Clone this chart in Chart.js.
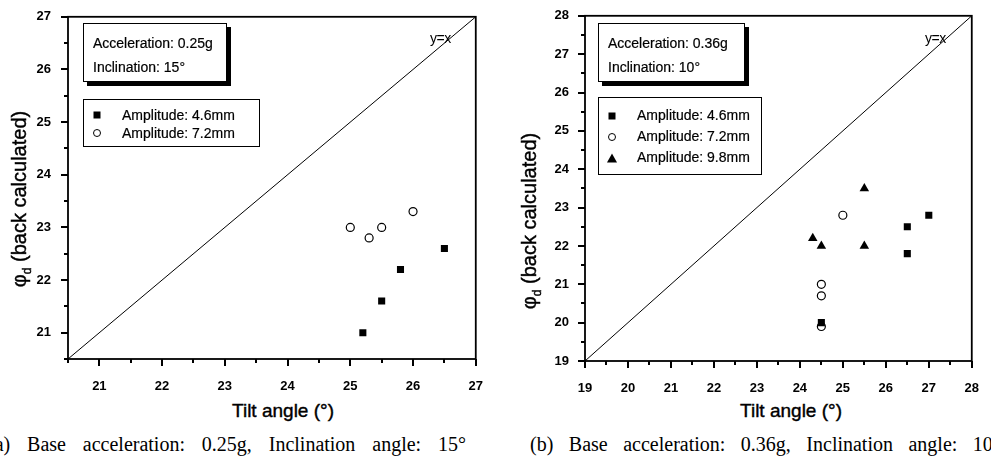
<!DOCTYPE html>
<html>
<head>
<meta charset="utf-8">
<script src="https://cdn.jsdelivr.net/npm/chart.js@4.4.1/dist/chart.umd.min.js"></script>
<style>
    body { margin: 0; width: 991px; height: 459px; overflow: hidden; background: #fff; position: relative; font-family: "Liberation Sans", Arial, sans-serif; color: #000; }
    canvas { position: absolute; top: 0; }
    .note { position: absolute; border: 1px solid #000; box-shadow: 4px 4px 0 #000; background: #fff; font-size: 14px; line-height: 24px; padding: 7px 0 0 9px; box-sizing: border-box; white-space: nowrap; -webkit-text-stroke: 0.2px #000; }
    .legend { position: absolute; border: 1px solid #000; background: #fff; font-size: 14px; box-sizing: border-box; white-space: nowrap; -webkit-text-stroke: 0.2px #000; }
    .legend .row { position: relative; padding-left: 38px; }
    .legend .mk { position: absolute; left: 13px; top: 50%; transform: translate(-50%, -50%); }
    .sq { width: 7px; height: 7px; background: #000; }
    .ci { width: 6px; height: 6px; border: 1.3px solid #000; border-radius: 50%; }
    .tr { width: 0; height: 0; border-left: 5px solid transparent; border-right: 5px solid transparent; border-bottom: 9px solid #000; }
    .yx { position: absolute; font-size: 14px; letter-spacing: -0.5px; }
    .xtitle { position: absolute; width: 200px; text-align: center; font-size: 19px; line-height: 20px; -webkit-text-stroke: 0.4px #000; }
    .ytitle { position: absolute; width: 260px; height: 24px; line-height: 24px; text-align: center; font-size: 20px; transform: rotate(-90deg); -webkit-text-stroke: 0.4px #000; white-space: nowrap; }
    .ytitle sub { font-size: 12px; }
    .caption { position: absolute; top: 434px; font-family: "Liberation Serif", "Times New Roman", serif; font-size: 20px; line-height: 20px; white-space: nowrap; }
</style>
</head>
<body>
<canvas id="chart-a" width="495" height="400" style="left:0"></canvas>
<canvas id="chart-b" width="496" height="400" style="left:495px"></canvas>

<div class="note" style="left:83px; top:23px; width:144px; height:59px;">Acceleration: 0.25g<br>Inclination: 15°</div>
<div class="legend" id="legend-a" style="left:83px; top:99px; width:177px; height:48px; padding-top:6px; line-height:18px;"></div>
<div class="yx" style="left:430px; top:30px;">y=x</div>
<div class="xtitle" style="left:183px; top:401px;">Tilt angle (°)</div>
<div class="ytitle" style="left:-111px; top:187px;">φ<sub>d</sub> (back calculated)</div>
<div class="caption" style="left:-12px; width:478px; text-align:justify; text-align-last:justify;">(a) Base acceleration: 0.25g, Inclination angle: 15°</div>

<div class="note" style="left:598px; top:23px; width:147px; height:59px;">Acceleration: 0.36g<br>Inclination: 10°</div>
<div class="legend" id="legend-b" style="left:598px; top:97px; width:164px; height:78px; padding-top:7px; line-height:21px;"></div>
<div class="yx" style="left:925px; top:30px;">y=x</div>
<div class="xtitle" style="left:691px; top:401px;">Tilt angle (°)</div>
<div class="ytitle" style="left:399px; top:209px;">φ<sub>d</sub> (back calculated)</div>
<div class="caption" style="left:530px; word-spacing:10.5px;">(b) Base acceleration: 0.36g, Inclination angle: 10°</div>

<script>
// Axis ranges (tilt angle and phi_d share the same range in each panel)
const rangeA = [20.5, 27];
const rangeB = [19, 28];

// (a) 0.25g, 15°
const tiltA46 = [25.2, 25.5, 25.8, 26.5];
const phiA46 = [21.0, 21.6, 22.2, 22.6];
const tiltA72 = [25.0, 25.3, 25.5, 26.0];
const phiA72 = [23.0, 22.8, 23.0, 23.3];

// (b) 0.36g, 10°
const tiltB46 = [24.5, 26.5, 26.5, 27.0];
const phiB46 = [20.0, 21.8, 22.5, 22.8];
const tiltB72 = [24.5, 24.5, 24.5, 25.0];
const phiB72 = [19.9, 20.7, 21.0, 22.8];
const tiltB98 = [24.3, 24.5, 25.5, 25.5];
const phiB98 = [22.2, 22.0, 22.0, 23.5];

const seriesNames = ["Amplitude: 4.6mm", "Amplitude: 7.2mm", "Amplitude: 9.8mm"];

function puntos(xs, ys) {
    return xs.map((x, i) => ({ x: x, y: ys[i] }));
}

// estilos de marcador: cuadrado lleno, circulo abierto, triangulo lleno
const estilos = [
    { pointStyle: "rect", pointRadius: 5, backgroundColor: "#000", borderColor: "#000", borderWidth: 0, css: "sq" },
    { pointStyle: "circle", pointRadius: 4, backgroundColor: "#fff", borderColor: "#000", borderWidth: 1.2, css: "ci" },
    { pointStyle: "triangle", pointRadius: 5.5, backgroundColor: "#000", borderColor: "#000", borderWidth: 0, css: "tr" }
];

const esMayor = v => Math.abs(v - Math.round(v)) < 1e-6;

// ticks mayores/menores hacia afuera y marco del grafico
const marcoPlugin = {
    id: "marco",
    afterDraw(chart) {
        const { ctx, chartArea: a } = chart;
        const sx = chart.scales.x;
        const sy = chart.scales.y;
        ctx.save();
        ctx.fillStyle = "#000";
        sx.ticks.forEach(t => {
            const px = Math.round(sx.getPixelForValue(t.value));
            const len = esMayor(t.value) ? 7 : 4;
            ctx.fillRect(px - 1, Math.round(a.bottom), 2, len);
        });
        sy.ticks.forEach(t => {
            const py = Math.round(sy.getPixelForValue(t.value));
            const len = esMayor(t.value) ? 7 : 4;
            ctx.fillRect(Math.round(a.left) - len, py - 1, len, 2);
        });
        ctx.strokeStyle = "#000";
        ctx.lineWidth = 1.8;
        ctx.strokeRect(a.left, a.top, a.right - a.left, a.bottom - a.top);
        ctx.restore();
    }
};

const fuenteTicks = { family: "'Liberation Sans', Arial, sans-serif", size: 13, weight: "bold" };

function crearGrafico(id, rango, series, area) {
    const datasets = [{
        type: "line",
        data: [{ x: rango[0], y: rango[0] }, { x: rango[1], y: rango[1] }],
        borderColor: "#000",
        borderWidth: 1,
        pointRadius: 0,
        fill: false
    }];
    series.forEach((s, i) => {
        const e = estilos[i];
        datasets.push({
            label: seriesNames[i],
            data: puntos(s[0], s[1]),
            pointStyle: e.pointStyle,
            pointRadius: e.pointRadius,
            backgroundColor: e.backgroundColor,
            borderColor: e.borderColor,
            borderWidth: e.borderWidth
        });
    });

    const canvas = document.getElementById(id);
    const eje = (extra) => Object.assign({
        type: "linear",
        min: rango[0],
        max: rango[1],
        grid: { display: false },
        border: { display: false },
        ticks: {
            stepSize: 0.5,
            autoSkip: false,
            color: "#000",
            font: fuenteTicks,
            callback: v => esMayor(v) ? Math.round(v) : ""
        }
    }, extra);

    const x = eje({ afterFit: s => { s.height = canvas.height - area.bottom; } });
    x.ticks.padding = 12;
    x.ticks.maxRotation = 0;
    const y = eje({ afterFit: s => { s.width = area.left; } });
    y.ticks.padding = area.labelGap;

    return new Chart(canvas, {
        type: "scatter",
        data: { datasets },
        options: {
            responsive: false,
            animation: false,
            layout: { padding: { top: area.top, right: canvas.width - area.right, left: 0, bottom: 0 } },
            plugins: { legend: { display: false }, tooltip: { enabled: false } },
            scales: { x, y }
        },
        plugins: [marcoPlugin]
    });
}

function armarLeyenda(id, n) {
    const box = document.getElementById(id);
    for (let i = 0; i < n; i++) {
        const row = document.createElement("div");
        row.className = "row";
        row.innerHTML = '<span class="mk ' + estilos[i].css + '"></span>' + seriesNames[i];
        box.appendChild(row);
    }
}

crearGrafico("chart-a", rangeA, [[tiltA46, phiA46], [tiltA72, phiA72]],
    { left: 68, right: 478, top: 13, bottom: 359, labelGap: 9 });
crearGrafico("chart-b", rangeB, [[tiltB46, phiB46], [tiltB72, phiB72], [tiltB98, phiB98]],
    { left: 90, right: 484, top: 12, bottom: 361, labelGap: 8 });

armarLeyenda("legend-a", 2);
armarLeyenda("legend-b", 3);
</script>
</body>
</html>
